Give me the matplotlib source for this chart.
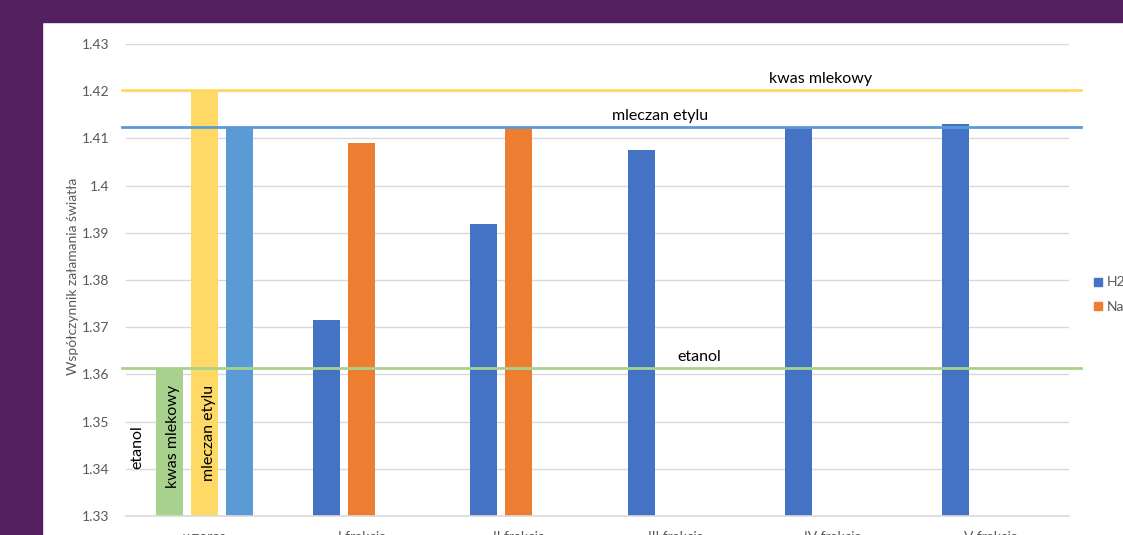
import numpy as np
import matplotlib
matplotlib.use("Agg")
from matplotlib import pyplot as plt
from matplotlib.patches import Rectangle
from matplotlib.lines import Line2D

categories = ["wzorce", "I frakcja", "II frakcja", "III frakcja", "IV frakcja", "V frakcja"]

# reference substances (drawn in the "wzorce" group and as horizontal lines)
standard_names = ["etanol", "kwas mlekowy", "mleczan etylu"]
standard_values = [1.3614, 1.4203, 1.4125]
standard_colors = ["#A9D18E", "#FFD966", "#5B9BD5"]

# fractions, catalysed by H2SO4 / NaOH
h2so4 = [np.nan, 1.3715, 1.3919, 1.4075, 1.4125, 1.4130]
naoh = [np.nan, 1.4090, 1.4125, np.nan, np.nan, np.nan]

BLUE = "#4472C4"
ORANGE = "#ED7D31"
PURPLE = "#541F5E"
GRID = "#D9D9D9"
TICK = "#595959"

plt.rcParams["font.family"] = ["Lato", "DejaVu Sans"]

fig = plt.figure(figsize=(11.23, 5.35), dpi=100)
W, H = 1123, 535
ax = fig.add_axes([126 / W, 1 - 516 / H, 943 / W, 472 / H])

x = np.arange(len(categories))
width = 0.172
off = 0.223

# standards group: one bar per substance
for i, (val, col) in enumerate(zip(standard_values, standard_colors)):
    ax.bar(x[0] + (i - 1) * off, val, width, color=col, zorder=2)

ax.bar(x - off, h2so4, width, color=BLUE, zorder=2, label="H2SO4")
ax.bar(x, naoh, width, color=ORANGE, zorder=2, label="NaOH")

# horizontal reference lines for the pure substances, with their names
label_x = [3.15, 3.92, 2.9]
for name, val, col, lx in zip(standard_names, standard_values, standard_colors, label_x):
    ax.axhline(val, xmin=-0.004, xmax=1.0127, color=col, lw=2, zorder=3, clip_on=False)
    ax.text(lx, val + 0.0007, name, fontsize=11.5, ha="center", va="bottom")

# names written vertically next to / inside the standard bars
ax.text(-0.43, 1.3445, "etanol", fontsize=11.5, rotation=90, ha="center", va="center")
ax.text(-0.2, 1.3468, "kwas mlekowy", fontsize=11.5, rotation=90, ha="center", va="center")
ax.text(0.03, 1.3475, "mleczan etylu", fontsize=11.5, rotation=90, ha="center", va="center")

ax.set_xlim(-0.5, len(categories) - 0.5)
ax.set_ylim(1.33, 1.43)
yt = np.round(np.linspace(1.33, 1.43, 11), 2)
ax.set_yticks(yt)
ax.set_yticklabels(["{:g}".format(v) for v in yt])
ax.set_xticks(x)
ax.set_xticklabels(categories)
ax.tick_params(axis="both", length=0, colors=TICK, labelsize=10)
ax.tick_params(axis="y", pad=12)
ax.tick_params(axis="x", pad=11)
ax.grid(axis="y", color=GRID, lw=1, zorder=0)
for s in ["top", "right", "left"]:
    ax.spines[s].set_visible(False)
ax.spines["bottom"].set_color(GRID)
ax.spines["bottom"].set_linewidth(1.2)

fig.text(73 / W, 1 - 276 / H, "Współczynnik załamania światła", rotation=90,
         ha="center", va="center", fontsize=10, color=TICK)

handles = [Line2D([], [], ls="", marker="s", ms=6, color=BLUE),
           Line2D([], [], ls="", marker="s", ms=6, color=ORANGE)]
fig.legend(handles, ["H2SO4", "NaOH"], loc="upper left",
           bbox_to_anchor=(1079 / W, 1 - 264 / H), frameon=False,
           fontsize=10, labelcolor=TICK, handletextpad=0.1, labelspacing=0.9,
           handlelength=1.0)

# window frame around the chart
fig.patches.append(Rectangle((0, 0), 42 / W, 1, transform=fig.transFigure,
                             color=PURPLE, zorder=10))
fig.patches.append(Rectangle((0, 1 - 22 / H), 1, 22 / H, transform=fig.transFigure,
                             color=PURPLE, zorder=10))

fig.savefig("out.png", dpi=100)
